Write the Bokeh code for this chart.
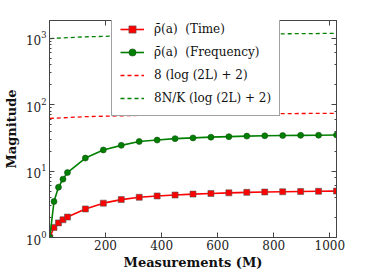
from bokeh.plotting import figure
from bokeh.models import (LogAxis, LinearAxis, FixedTicker, LogTicker, Legend, LegendItem,
                          Range1d, CustomJSTickFormatter)
from bokeh.embed import file_html
from bokeh.resources import INLINE

# ---- data ----
measurements = [1, 16, 32, 48, 64, 128, 192, 256, 320, 384, 448, 512, 576, 640, 704,
                768, 832, 896, 960, 1024]
rho_time = [1.0, 1.42, 1.66, 1.85, 2.03, 2.69, 3.29, 3.72, 4.03, 4.22, 4.36, 4.50, 4.60,
            4.70, 4.78, 4.84, 4.88, 4.92, 4.96, 5.0]
rho_freq = [1.0, 3.48, 5.71, 7.56, 9.48, 15.7, 20.8, 24.4, 27.9, 29.3, 30.8, 31.6, 32.4,
            33.0, 33.6, 34.0, 34.3, 34.5, 34.7, 35.0]
bound_m = [1, 128, 256, 384, 512, 640, 768, 896, 1024]
bound_red = [62.0, 66.0, 68.0, 69.8, 71.0, 72.2, 73.0, 73.6, 74.0]
bound_green = [990, 1050, 1085, 1110, 1130, 1148, 1160, 1172, 1185]
x_ticks = [200, 400, 600, 800, 1000]

FONT = "DejaVu Serif"

p = figure(width=358, height=272, output_backend="svg", toolbar_location=None,
           y_axis_type="log", x_range=Range1d(0, 1024), y_range=Range1d(1, 1850),
           min_border_left=46, min_border_right=22, min_border_top=20, min_border_bottom=29)
p.xgrid.visible = False
p.ygrid.visible = False
p.outline_line_color = "#444444"
p.outline_line_width = 1
p.background_fill_color = "white"
p.border_fill_color = "white"

RED = "#ff0000"
GREEN = "#008000"

r_time_line = p.line(measurements, rho_time, line_color=RED, line_width=1.6)
r_time_pts = p.scatter(measurements, rho_time, marker="square", size=6, fill_color=RED,
                       line_color="#555555", line_width=0.6)
r_freq_line = p.line(measurements, rho_freq, line_color=GREEN, line_width=1.6)
r_freq_pts = p.scatter(measurements, rho_freq, marker="circle", size=6, fill_color=GREEN,
                       line_color="#1a4d1a", line_width=0.6)
r_red = p.line(bound_m, bound_red, line_color=RED, line_width=1.3, line_dash="4 3")
r_green = p.line(bound_m, bound_green, line_color=GREEN, line_width=1.3, line_dash="4 3")

def style_axis(ax):
    ax.major_tick_in = 5
    ax.major_tick_out = 0
    ax.minor_tick_in = 2
    ax.minor_tick_out = 0
    ax.axis_line_color = "#444444"
    ax.major_tick_line_color = "#444444"
    ax.minor_tick_line_color = "#444444"
    ax.major_label_text_font = FONT
    ax.major_label_text_font_size = "12px"
    ax.major_label_text_color = "#222222"
    ax.axis_label_text_font = FONT
    ax.axis_label_text_font_style = "bold"
    ax.axis_label_text_font_size = "13px"
    ax.axis_label_text_color = "#111111"

xa = p.xaxis[0]
xa.ticker = FixedTicker(ticks=x_ticks)
xa.axis_label = "Measurements (M)"
style_axis(xa)
xa.major_label_standoff = 2
xa.major_label_text_line_height = 0.9
xa.axis_label_text_line_height = 0.3
xa.axis_label_standoff = 2

ya = p.yaxis[0]
ya.axis_label = "Magnitude"
style_axis(ya)
ya.major_label_standoff = 3
ya.axis_label_standoff = 4

blank = CustomJSTickFormatter(code="return ''")
ra = LogAxis(ticker=LogTicker(), formatter=blank)
style_axis(ra)
ra.major_label_standoff = 0
p.add_layout(ra, "right")
ta = LinearAxis(ticker=FixedTicker(ticks=x_ticks), formatter=blank)
style_axis(ta)
ta.major_label_standoff = 0
p.add_layout(ta, "above")

legend = Legend(items=[
    LegendItem(label="\u03c1\u0304(a)  (Time)", renderers=[r_time_line, r_time_pts]),
    LegendItem(label="\u03c1\u0304(a)  (Frequency)", renderers=[r_freq_line, r_freq_pts]),
    LegendItem(label="8 (log (2L) + 2)", renderers=[r_red]),
    LegendItem(label="8N/K (log (2L) + 2)", renderers=[r_green]),
], location=(62, 121))
legend.label_text_font = FONT
legend.label_text_font_size = "12px"
legend.label_text_color = "#111111"
legend.border_line_color = "#444444"
legend.border_line_width = 1
legend.background_fill_alpha = 1
legend.glyph_width = 24
legend.glyph_height = 18
legend.label_standoff = 10
legend.spacing = 5
legend.padding = 8
legend.margin = 0
p.add_layout(legend, "center")

open("out.html", "w").write(file_html(p, INLINE))
